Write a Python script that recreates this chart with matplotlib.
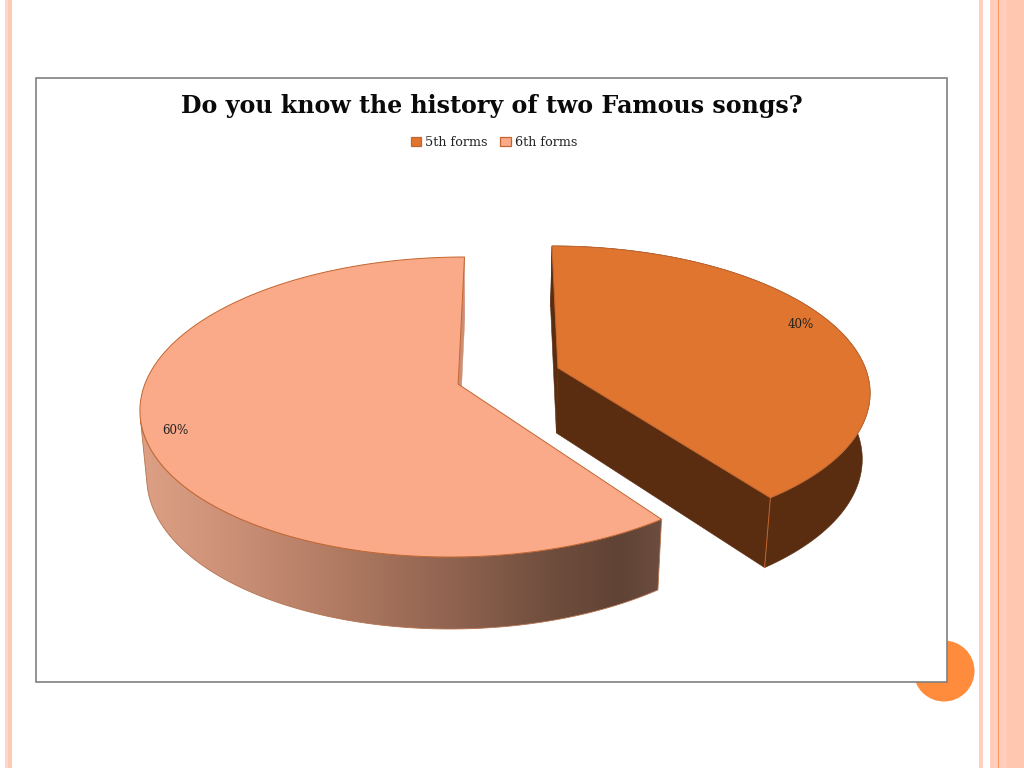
import numpy as np
import matplotlib
matplotlib.use("Agg")
import matplotlib.pyplot as plt
from matplotlib.patches import Polygon, Rectangle, Circle, Patch
from matplotlib.colors import LinearSegmentedColormap

TITLE = "Do you know the history of two Famous songs?"
categories = ["5th forms", "6th forms"]
values = [40, 60]
top_colors = ["#DF752F", "#FAAA88"]
edge_color = "#C2662F"
SERIF = ["DejaVu Serif"]

# Rim ellipse of each exploded slice: centre x, centre y, x radius, y radius, shear
ell_5th = (559, 390, 311, 144, -7)
ell_6th = (457, 407, 317, 150, 7.5)
persp = 0.153   # how far the disc centre is displaced on screen by the perspective

fig = plt.figure(figsize=(10.24, 7.68), dpi=100, facecolor="white")
ax = fig.add_axes([0, 0, 1, 1])

# slide decoration
for x0, w, c in [(5, 3, "#FBD8CB"), (8, 4, "#FFC9B5"), (979, 4, "#FFD0BE"),
                 (990, 34, "#FFCDB9"), (998, 1.3, "#F8985F"), (1007, 17, "#FFC7B0")]:
    ax.add_patch(Rectangle((x0, 0), w, 768, fc=c, ec="none", zorder=1))
ax.add_patch(Circle((944, 671), 30.5, fc="#FF8B3D", ec="none", zorder=1))
ax.add_patch(Rectangle((36, 77.5), 911, 604.5, fc="white", ec="#808080", lw=1.2, zorder=2))


def project(ell, u, v):
    """Perspective view of the unit disc: north is v=1, angles run clockwise."""
    cx, cy, rx, ry, sh = ell
    u, v = np.atleast_1d(u).astype(float), np.atleast_1d(v).astype(float)
    den = 1 + persp * v
    up = u * np.sqrt(1 - persp ** 2) / den
    vp = (v + persp) / den
    return np.column_stack([cx + rx * up + sh * vp, cy - ry * vp])


def drop(pts):
    """Lower rim of the extruded pie, converging slightly towards a far vanishing point."""
    out = pts.copy()
    out[:, 0] = 480 + (pts[:, 0] - 480) * 0.98
    out[:, 1] = pts[:, 1] + 65 + 0.037 * (pts[:, 1] - 368)
    return out


def rim(ell, a0, a1, n=400):
    a = np.deg2rad(np.linspace(a0, a1, n))
    return project(ell, np.sin(a), np.cos(a))


cut = values[0] / sum(values) * 360
apex5 = project(ell_5th, 0, 0)
apex6 = project(ell_6th, 0, 0)

# 6th forms: shaded wall, a horizontal gradient clipped to the visible front wall
r6 = rim(ell_6th, cut, 360)
d6 = drop(r6)
wall = LinearSegmentedColormap.from_list(
    "wall", [(0, "#DDA085"), (0.2, "#C88E75"), (0.4, "#AE7860"), (0.6, "#8F6350"),
             (0.8, "#6E4C3C"), (0.92, "#604335"), (1, "#6C4D3F")])
x_min, x_max = r6[:, 0].min(), r6[:, 0].max()
tangent = np.argmax(r6 @ np.array([-72.0, 7.0]))
front = np.vstack([r6[:tangent + 1], d6[:tangent + 1][::-1]])
grad = ax.imshow(np.linspace(0, 1, 512)[None, :], cmap=wall, aspect="auto",
                 extent=(x_min, x_max, 700, 380), zorder=3, interpolation="bilinear")
clip = Polygon(front, fc="none", ec="none", transform=ax.transData)
ax.add_patch(clip)
grad.set_clip_path(clip)
ax.add_patch(Polygon(front, fc="none", ec="#B5734F", lw=0.6, zorder=4))
n6 = r6[-1:]
ax.add_patch(Polygon(np.vstack([apex6, n6, drop(n6), drop(apex6)]), fc="#CC8E75", ec="#CC8E75", lw=0.3, zorder=3))
ax.add_patch(Polygon(np.vstack([apex6, r6]), fc=top_colors[1], ec=edge_color, lw=0.7, zorder=5))

# 5th forms: dark solid wall and cut faces
r5 = rim(ell_5th, 0, cut)
d5 = drop(r5)
dark = "#5A2D11"
ax.add_patch(Polygon(np.vstack([r5, d5[::-1]]), fc=dark, ec=dark, lw=0.4, zorder=3))
n5 = r5[:1]
ax.add_patch(Polygon(np.vstack([apex5, n5, drop(n5), drop(apex5)]), fc=dark, ec=dark, lw=0.4, zorder=3))
e5 = r5[-1:]
ax.add_patch(Polygon(np.vstack([apex5, e5, drop(e5), drop(apex5)]), fc=dark, ec=dark, lw=0.4, zorder=4))
ax.plot(*np.vstack([e5, drop(e5)]).T, color=edge_color, lw=0.7, zorder=4)
ax.add_patch(Polygon(np.vstack([apex5, r5]), fc=top_colors[0], ec=edge_color, lw=0.7, zorder=5))

# labels
label_xy = [(801, 325), (175, 431)]
for (x, y), val in zip(label_xy, values):
    ax.text(x, y, f"{val}%", family=SERIF, fontsize=8.6, color="#222222", ha="center", va="center", zorder=6)

ax.text(491.5, 105.5, TITLE, family=SERIF, fontsize=17.1, fontweight="bold", color="#0A0A0A",
        ha="center", va="center", zorder=6)

handles = [Patch(fc=c, ec=edge_color, lw=0.9) for c in top_colors]
leg = ax.legend(handles, categories, ncols=2, loc="center", bbox_to_anchor=(494 / 1024, 1 - 142.5 / 768),
                frameon=False, prop={"family": SERIF, "size": 9.2}, handlelength=0.8, handleheight=0.8,
                handletextpad=0.3, columnspacing=1.0, labelcolor="#222222")
leg.set_zorder(6)

ax.set_xlim(0, 1024)
ax.set_ylim(768, 0)
ax.axis("off")

fig.savefig("out.png", dpi=100, facecolor="white")
